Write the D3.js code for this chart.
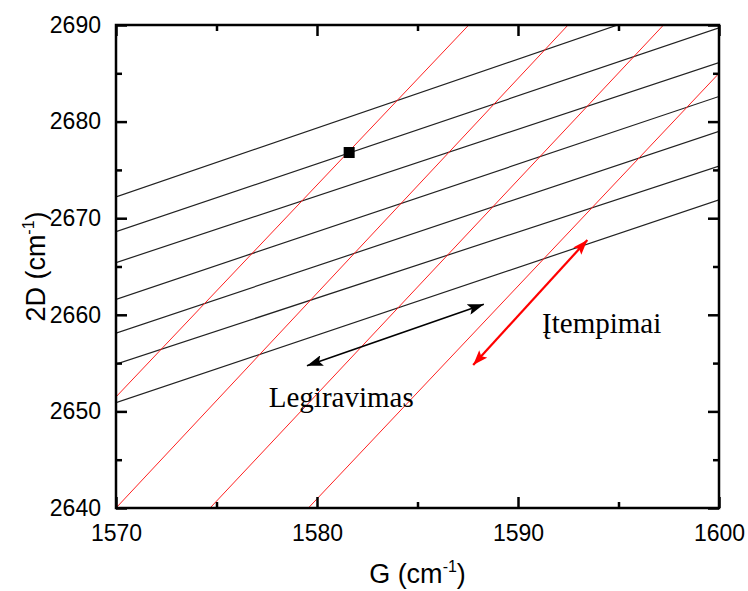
<!DOCTYPE html>
<html>
<head>
<meta charset="utf-8">
<script src="https://cdn.jsdelivr.net/npm/d3@7"></script>
<style>
  body { margin: 0; background: #fff; }
  svg { display: block; }
</style>
</head>
<body>
<div id="chart"></div>
<script>
// axis ranges and ticks
const gDomain = [1570, 1600];
const dDomain = [2640, 2690];
const gMajor = [1570, 1580, 1590, 1600];
const gMinor = [1575, 1585, 1595];
const dMajor = [2640, 2650, 2660, 2670, 2680, 2690];
const dMinor = [2645, 2655, 2665, 2675, 2685];

// black (doping) lines: 2D value at G = 1570 and at G = 1600
const dopingAt1570 = [2672.2, 2668.6, 2665.4, 2661.6, 2658.1, 2654.9, 2650.9];
const dopingAt1600 = [2693.6, 2689.7, 2686.1, 2682.6, 2679.0, 2675.4, 2671.9];

// red (strain) lines: [G0, 2D0, G1, 2D1]
const strainLines = [
  [1570.0, 2651.5, 1587.55, 2690],
  [1570.0, 2640.0, 1592.49, 2690],
  [1574.68, 2640.0, 1597.24, 2690],
  [1579.57, 2640.0, 1600.0, 2685.0]
];

// measured point
const pointG = [1581.6];
const point2D = [2676.8];

// arrows: [[G, 2D], [G, 2D]]
const dopingArrow = [[1579.5, 2654.73], [1588.3, 2661.09]];
const strainArrow = [[1587.77, 2654.8], [1593.45, 2667.74]];

const width = 748, height = 591;
const margin = {top: 25, right: 29, bottom: 83, left: 116};
const w = width - margin.left - margin.right;
const h = height - margin.top - margin.bottom;

const svg = d3.select("#chart").append("svg")
  .attr("width", width)
  .attr("height", height);

const defs = svg.append("defs");
defs.append("clipPath").attr("id", "plotClip")
  .append("rect").attr("width", w).attr("height", h);

function arrowHead(id, color, len, half) {
  defs.append("marker")
    .attr("id", id)
    .attr("markerUnits", "userSpaceOnUse")
    .attr("viewBox", `0 0 ${len} ${half * 2}`)
    .attr("refX", len)
    .attr("refY", half)
    .attr("markerWidth", len)
    .attr("markerHeight", half * 2)
    .attr("orient", "auto-start-reverse")
    .append("path")
    .attr("d", `M0,0 L${len},${half} L0,${half * 2} L${len * 0.2},${half} Z`)
    .attr("fill", color);
}
arrowHead("headBlack", "#000", 16, 5.5);
arrowHead("headRed", "#f00", 15, 5.5);

const g = svg.append("g")
  .attr("transform", "translate(" + margin.left + "," + margin.top + ")");

const x = d3.scaleLinear().domain(gDomain).range([0, w]);
const y = d3.scaleLinear().domain(dDomain).range([h, 0]);

const plot = g.append("g").attr("clip-path", "url(#plotClip)");

// black lines
plot.selectAll(".doping")
  .data(dopingAt1570.map((d, i) => [d, dopingAt1600[i]]))
  .enter()
  .append("line")
  .attr("x1", x(gDomain[0]))
  .attr("y1", d => y(d[0]))
  .attr("x2", x(gDomain[1]))
  .attr("y2", d => y(d[1]))
  .attr("stroke", "#222")
  .attr("stroke-width", 1.2);

// red lines
plot.selectAll(".strain")
  .data(strainLines)
  .enter()
  .append("line")
  .attr("x1", d => x(d[0]))
  .attr("y1", d => y(d[1]))
  .attr("x2", d => x(d[2]))
  .attr("y2", d => y(d[3]))
  .attr("stroke", "#ff2020")
  .attr("stroke-width", 1);

// point
g.selectAll(".pt")
  .data(pointG.map((d, i) => [d, point2D[i]]))
  .enter()
  .append("rect")
  .attr("x", d => x(d[0]) - 5.5)
  .attr("y", d => y(d[1]) - 5.5)
  .attr("width", 11)
  .attr("height", 11)
  .attr("fill", "#000");

// arrows
g.append("line")
  .attr("x1", x(dopingArrow[0][0])).attr("y1", y(dopingArrow[0][1]))
  .attr("x2", x(dopingArrow[1][0])).attr("y2", y(dopingArrow[1][1]))
  .attr("stroke", "#000").attr("stroke-width", 1.6)
  .attr("marker-start", "url(#headBlack)")
  .attr("marker-end", "url(#headBlack)");

g.append("line")
  .attr("x1", x(strainArrow[0][0])).attr("y1", y(strainArrow[0][1]))
  .attr("x2", x(strainArrow[1][0])).attr("y2", y(strainArrow[1][1]))
  .attr("stroke", "#f00").attr("stroke-width", 2.2)
  .attr("marker-start", "url(#headRed)")
  .attr("marker-end", "url(#headRed)");

// annotations
g.append("text")
  .attr("x", x(1577.6)).attr("y", y(2650.5))
  .attr("font-family", "'Liberation Serif', 'Times New Roman', serif")
  .attr("font-size", 29)
  .text("Legiravimas");

g.append("text")
  .attr("x", x(1591.2)).attr("y", y(2658.1))
  .attr("font-family", "'Liberation Serif', 'Times New Roman', serif")
  .attr("font-size", 29)
  .text("Įtempimai");

// axes
const font = "'Liberation Sans', Arial, sans-serif";
function styleAxis(sel) {
  sel.select(".domain").remove();
  sel.selectAll(".tick line").attr("stroke", "#000").attr("stroke-width", 2.5);
  sel.selectAll("text").attr("font-family", font).attr("font-size", 23).attr("fill", "#000");
}

g.append("g").attr("transform", "translate(0," + h + ")")
  .call(d3.axisBottom(x).tickValues(gMajor).tickSize(-11).tickPadding(17).tickFormat(d3.format("d")))
  .call(styleAxis);
g.append("g").attr("transform", "translate(0," + h + ")")
  .call(d3.axisBottom(x).tickValues(gMinor).tickSize(-6).tickFormat(""))
  .call(styleAxis);
g.append("g")
  .call(d3.axisTop(x).tickValues(gMajor).tickSize(-11).tickFormat(""))
  .call(styleAxis);
g.append("g")
  .call(d3.axisTop(x).tickValues(gMinor).tickSize(-6).tickFormat(""))
  .call(styleAxis);

g.append("g")
  .call(d3.axisLeft(y).tickValues(dMajor).tickSize(-11).tickPadding(15).tickFormat(d3.format("d")))
  .call(styleAxis);
g.append("g")
  .call(d3.axisLeft(y).tickValues(dMinor).tickSize(-6).tickFormat(""))
  .call(styleAxis);
g.append("g").attr("transform", "translate(" + w + ",0)")
  .call(d3.axisRight(y).tickValues(dMajor).tickSize(-11).tickFormat(""))
  .call(styleAxis);
g.append("g").attr("transform", "translate(" + w + ",0)")
  .call(d3.axisRight(y).tickValues(dMinor).tickSize(-6).tickFormat(""))
  .call(styleAxis);

// frame
g.append("rect")
  .attr("width", w).attr("height", h)
  .attr("fill", "none").attr("stroke", "#000").attr("stroke-width", 2.5);

// axis titles
const xt = svg.append("text")
  .attr("x", margin.left + w / 2).attr("y", 583)
  .attr("text-anchor", "middle")
  .attr("font-family", font).attr("font-size", 27);
xt.append("tspan").text("G (cm");
xt.append("tspan").attr("font-size", 16).attr("dy", -11).text("-1");
xt.append("tspan").attr("dy", 11).text(")");

const yt = svg.append("text")
  .attr("transform", "translate(45," + (margin.top + h / 2) + ") rotate(-90)")
  .attr("text-anchor", "middle")
  .attr("font-family", font).attr("font-size", 27);
yt.append("tspan").text("2D (cm");
yt.append("tspan").attr("font-size", 16).attr("dy", -11).text("-1");
yt.append("tspan").attr("dy", 11).text(")");
</script>
</body>
</html>
